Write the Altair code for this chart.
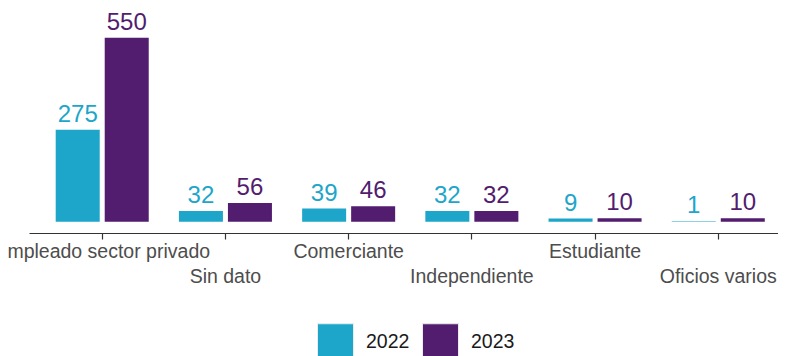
import altair as alt
import pandas as pd

categories = ["Empleado sector privado", "Sin dato", "Comerciante",
              "Independiente", "Estudiante", "Oficios varios"]
years = ["2022", "2023"]
values_2022 = [275, 32, 39, 32, 9, 1]
values_2023 = [550, 56, 46, 32, 10, 10]
colors = ["#1DA6C9", "#521C6F"]

rows = []
for c, v in zip(categories, values_2022):
    rows.append({"category": c, "year": "2022", "value": v})
for c, v in zip(categories, values_2023):
    rows.append({"category": c, "year": "2023", "value": v})
df = pd.DataFrame(rows)

FONT = "Liberation Sans"
lower_row = [categories[i] for i in range(1, len(categories), 2)]
label_expr = "indexof(" + str(lower_row).replace('"', "'") + ", datum.value) >= 0 ? ['', datum.label] : datum.label"

x = alt.X("category:N", sort=categories,
          scale=alt.Scale(paddingInner=0.245, paddingOuter=0.162, align=0.669),
          axis=alt.Axis(title=None, labelAngle=0, labelExpr=label_expr,
                        labelLineHeight=25, labelBaseline="top", labelLimit=0,
                        labelOverlap=False, labelFlush=False, labelBound=False,
                        labelFont=FONT, labelFontSize=19.5, labelColor="#4d4d4d",
                        labelPadding=3, tickSize=6, tickColor="#333333",
                        domainColor="#333333", domainWidth=1, tickWidth=1.2,
                        grid=False))
xo = alt.XOffset("year:N", sort=years, scale=alt.Scale(paddingInner=0.102))
y = alt.Y("value:Q", scale=alt.Scale(domain=[-34, 639], nice=False, zero=False), axis=None)
color_scale = alt.Scale(domain=years, range=colors)

bars = alt.Chart(df).mark_bar().encode(
    x=x, xOffset=xo, y=y,
    color=alt.Color("year:N", scale=color_scale, title=None,
                    legend=alt.Legend(orient="none", direction="horizontal",
                                      legendX=288, legendY=315,
                                      symbolType="square", symbolSize=1296,
                                      symbolStrokeColor="#ebebeb", symbolStrokeWidth=1,
                                      symbolOpacity=1,
                                      labelFont=FONT, labelFontSize=19.5,
                                      labelColor="#1a1a1a", labelOffset=12,
                                      columnPadding=10)),
)

labels = alt.Chart(df).mark_text(dy=-8, baseline="alphabetic", fontSize=24, font=FONT).encode(
    x=x, xOffset=xo, y=y,
    text=alt.Text("value:Q"),
    color=alt.Color("year:N", scale=color_scale, legend=None),
)

chart = (bars + labels).properties(
    width=749, height=225,
    background="white",
    autosize=alt.AutoSizeParams(type="none"),
    padding={"left": 21, "top": 0, "right": 0, "bottom": 123},
).configure_view(stroke=None)

chart.save("out.html", embed_options={"renderer": "svg", "actions": False})
